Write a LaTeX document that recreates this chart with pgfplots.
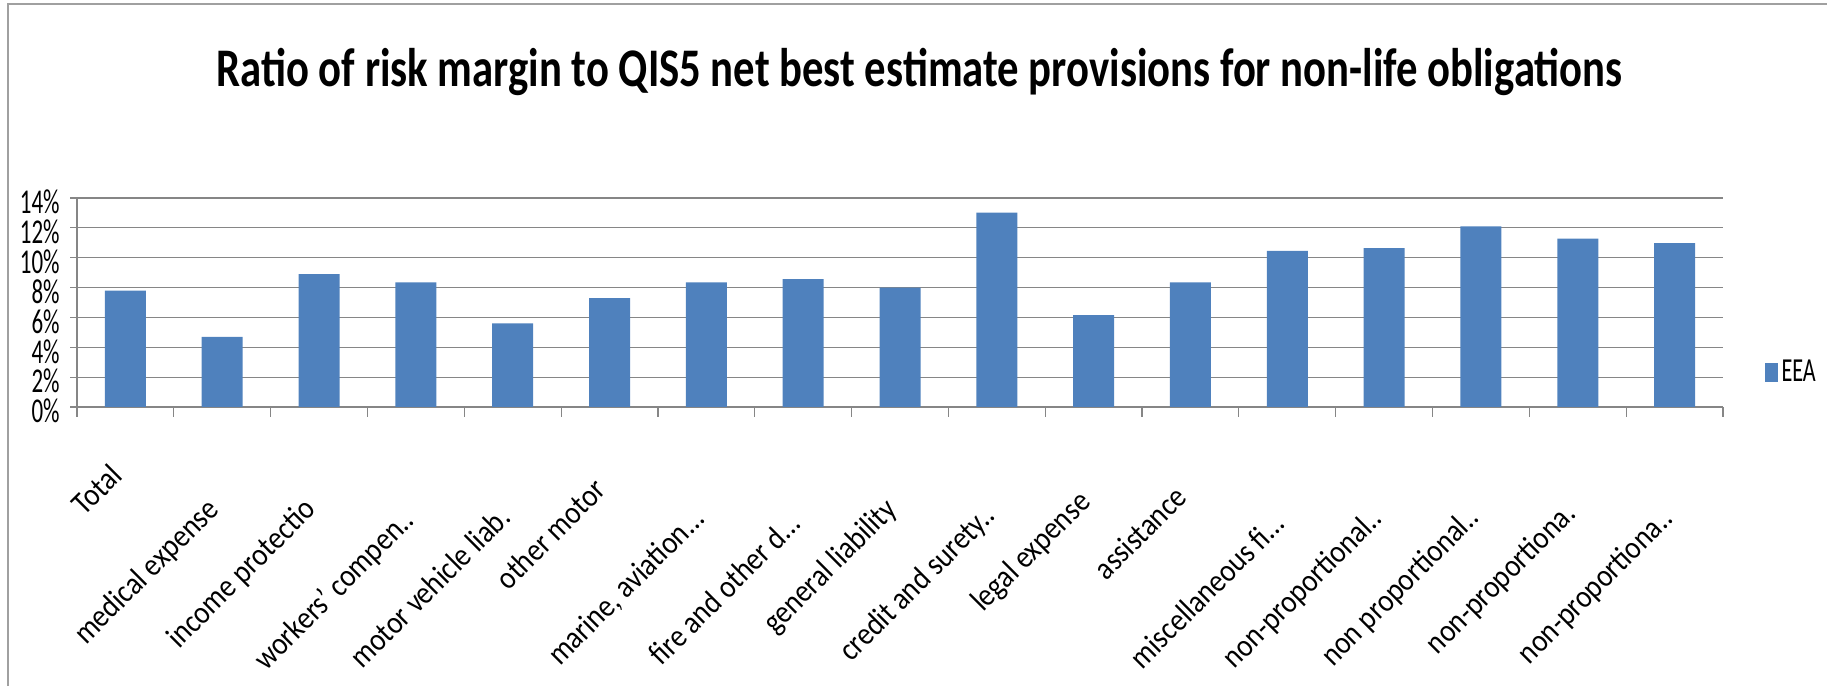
\documentclass[border=0pt]{standalone}
\usepackage{fontspec}
\setmainfont{Carlito}
\newfontfamily\titlefont{Carlito}[FakeStretch=0.785]
\newfontfamily\tickfont{Carlito}[FakeStretch=0.66]
\usepackage{graphicx}
\usepackage{pgfplots}
\pgfplotsset{compat=1.18}
\definecolor{barblue}{HTML}{4F81BD}
\definecolor{gridgray}{HTML}{868686}
\definecolor{framegray}{HTML}{A0A0A0}
% rotated labels: squeeze with \scalebox (FakeStretch skews rotated text)
\newcommand{\cl}[1]{\scalebox{0.88}[1]{#1}}

\begin{document}
\begin{tikzpicture}[
  catlbl/.style={rotate=45, anchor=north east, inner sep=0pt, font=\fontsize{16}{18}\selectfont},
  catdot/.style={rotate=45, anchor=base east, inner sep=0pt, font=\fontsize{16}{18}\selectfont}]
\draw[framegray, line width=1pt] (4pt,0pt) -- (4pt,341pt) -- (913.5pt,341pt);
\node[anchor=base, inner sep=0pt, font=\titlefont\bfseries\fontsize{27.2}{30}\selectfont]
  at (459.75pt,299.5pt) {Ratio of risk margin to QIS5 net best estimate provisions for non-life obligations};

\begin{axis}[
  at={(38.5pt,139.5pt)}, anchor=south west,
  scale only axis, width=823pt, height=104.5pt,
  xmin=-0.5, xmax=16.5, ymin=0, ymax=14,
  axis x line*=bottom, axis y line*=left,
  axis line style={gridgray, line width=0.6pt, -},
  ybar, bar width=20.5pt,
  ytick={0,2,...,14},
  yticklabels={0\%,2\%,4\%,6\%,8\%,10\%,12\%,14\%},
  yticklabel style={font=\tickfont\fontsize{17.4}{18}\selectfont, anchor=east, inner sep=0pt, xshift=-5pt, yshift=-2pt},
  ymajorgrids, grid style={gridgray, line width=0.6pt},
  xtick=\empty,
  extra x ticks={-0.5,0.5,...,16.5},
  extra x tick labels={},
  extra x tick style={major tick length=5pt},
  major tick length=3.5pt,
  tick align=outside,
  tick style={gridgray, line width=0.6pt},
  clip=false,
  legend image code/.code={\fill[barblue] (0pt,-4.75pt) rectangle (6.5pt,4.75pt);},
  legend style={at={(1.025,0.165)}, anchor=west, draw=none, fill=none, inner sep=0pt,
    font=\tickfont\fontsize{16.8}{18}\selectfont},
]
\addplot[fill=barblue, draw=none] coordinates {
(0,7.8) (1,4.7) (2,8.9) (3,8.35) (4,5.6) (5,7.3) (6,8.35) (7,8.56) (8,8.0)
(9,13.02) (10,6.15) (11,8.35) (12,10.46) (13,10.65) (14,12.1) (15,11.28) (16,10.97)
};
\addlegendentry{EEA}
% anchor points for the category names
\coordinate (c0) at (axis cs:-0.18,-3.65);
\coordinate (c1) at (axis cs:0.82,-5.9);
\coordinate (c2) at (axis cs:1.82,-5.9);
\coordinate (c3) at (axis cs:3,-7.72);
\coordinate (c4) at (axis cs:4,-7.52);
\coordinate (c5) at (axis cs:4.82,-4.6);
\coordinate (c6) at (axis cs:6,-7.59);
\coordinate (c7) at (axis cs:7,-7.92);
\coordinate (c8) at (axis cs:7.82,-5.9);
\coordinate (c9) at (axis cs:9,-7.39);
\coordinate (c10) at (axis cs:9.82,-5.4);
\coordinate (c11) at (axis cs:10.82,-5.1);
\coordinate (c12) at (axis cs:12,-7.92);
\coordinate (c13) at (axis cs:13,-7.59);
\coordinate (c14) at (axis cs:14,-7.52);
\coordinate (c15) at (axis cs:15,-7.25);
\coordinate (c16) at (axis cs:16,-7.59);
\end{axis}

\node[catlbl] at (c0) {\cl{Total}};
\node[catlbl] at (c1) {\cl{medical expense}};
\node[catlbl] at (c2) {\cl{income protectio}};
\node[catdot] at (c3) {\cl{workers' compen..}};
\node[catdot] at (c4) {\cl{motor vehicle liab.}};
\node[catlbl] at (c5) {\cl{other motor}};
\node[catdot] at (c6) {\cl{marine, aviation...}};
\node[catdot] at (c7) {\cl{fire and other d...}};
\node[catlbl] at (c8) {\cl{general liability}};
\node[catdot] at (c9) {\cl{credit and surety..}};
\node[catlbl] at (c10) {\cl{legal expense}};
\node[catlbl] at (c11) {\cl{assistance}};
\node[catdot] at (c12) {\cl{miscellaneous fi...}};
\node[catdot] at (c13) {\cl{non-proportional..}};
\node[catdot] at (c14) {\cl{non proportional..}};
\node[catdot] at (c15) {\cl{non-proportiona.}};
\node[catdot] at (c16) {\cl{non-proportiona..}};

\pgfresetboundingbox
\path[use as bounding box] (0pt,0pt) rectangle (913.5pt,343pt);
\end{tikzpicture}
\end{document}
